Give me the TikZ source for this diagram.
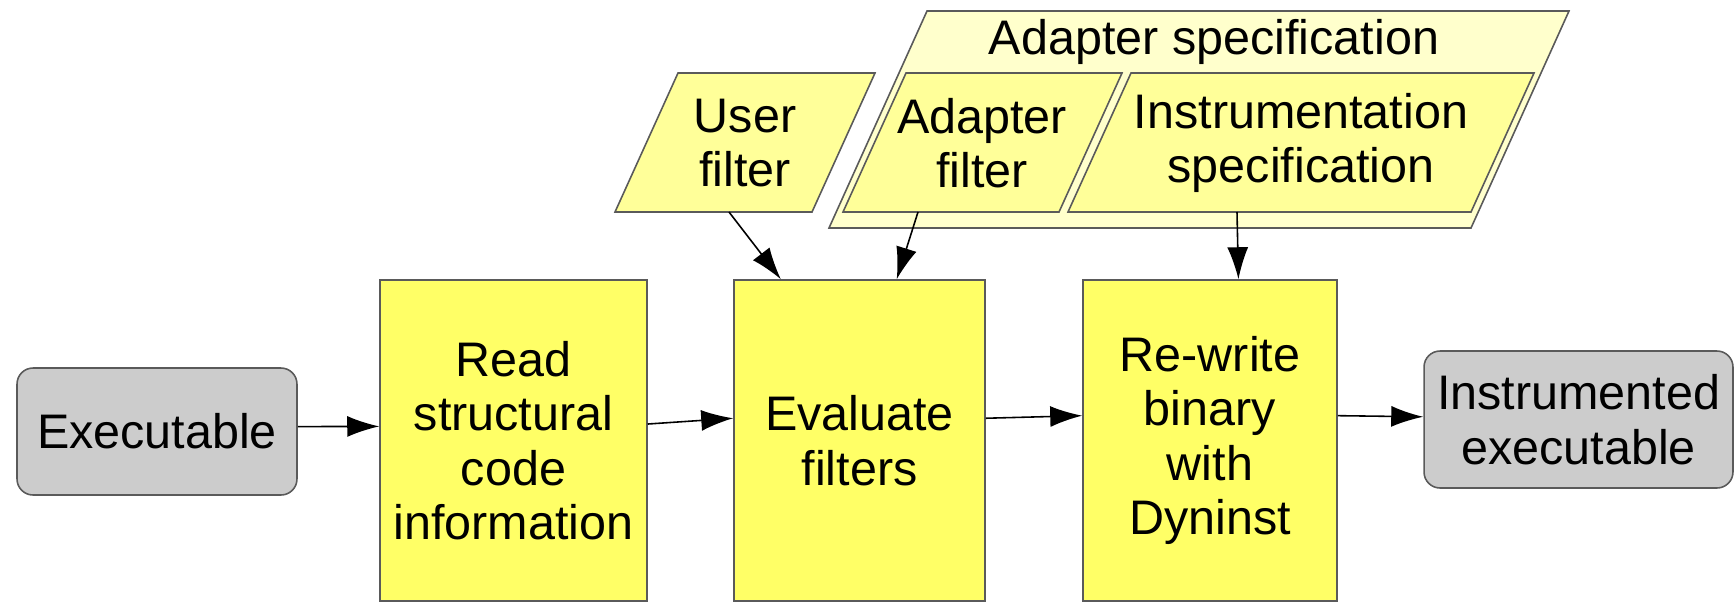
\documentclass[tikz,border=0pt]{standalone}
\usepackage{fontspec}
\setmainfont{Liberation Sans}
\usetikzlibrary{arrows.meta}
\definecolor{procyellow}{HTML}{FFFF66}
\definecolor{datayellow}{HTML}{FFFF99}
\definecolor{specyellow}{HTML}{FFFFCC}
\definecolor{filegray}{HTML}{CCCCCC}
\definecolor{edgegray}{HTML}{5A5A5A}

\tikzset{
  boxfont/.style={font=\fontsize{27.6}{31}\selectfont},
  process/.style={draw=edgegray, fill=procyellow, line width=0.9pt, align=center, boxfont, minimum height=6.42cm},
  file/.style={draw=edgegray, fill=filegray, line width=0.9pt, rounded corners=0.32cm, align=center, boxfont},
  data/.style={draw=edgegray, fill=datayellow, line width=0.9pt},
  spec/.style={draw=edgegray, fill=specyellow, line width=0.9pt},
  datalabel/.style={align=center, boxfont, inner sep=0pt},
  flow/.style={-{Latex[length=0.64cm,width=0.42cm]}, line width=0.9pt}
}

\begin{document}
\begin{tikzpicture}[x=0.02cm, y=-0.02cm]
  \useasboundingbox (0,0) rectangle (1735,603);

  % inputs on top
  \path[spec] (829,228) -- (1471,228) -- (1569,11) -- (927,11) -- cycle;
  \node[datalabel] (as) at (1214,42) {Adapter specification};
  \path[data] (615,212) -- (812,212) -- (875,73) -- (678,73) -- cycle;
  \path[data] (843,212) -- (1059,212) -- (1122,73) -- (906,73) -- cycle;
  \path[data] (1068,212) -- (1471,212) -- (1534,73) -- (1131,73) -- cycle;
  \node[datalabel] (uf) at (745,143) {User\\filter};
  \node[datalabel] (af) at (982,143) {Adapter\\filter};
  \node[datalabel] (is) at (1301,143) {Instrumentation\\specification};
  \coordinate (uf-out) at (729,212);
  \coordinate (af-out) at (918,212);
  \coordinate (is-out) at (1237,212);

  % main chain
  \node[file, minimum width=5.6cm, minimum height=2.54cm] (exe) at (157,431.5) {Executable};
  \node[process, minimum width=5.34cm] (read) at (513.5,440.5) {Read\\structural\\code\\information};
  \node[process, minimum width=5.02cm] (eval) at (859.5,440.5) {Evaluate\\filters};
  \node[process, minimum width=5.08cm] (rewrite) at (1210,440.5) {Re-write\\binary\\with\\Dyninst};
  \node[file, minimum width=6.18cm, minimum height=2.74cm] (instr) at (1578.5,419.5) {Instrumented\\executable};

  \path[flow]
  (exe.2) edge (read.174)
  (read.7) edge (eval.170)
  (eval.10) edge (rewrite.169)
  (rewrite.11) edge (instr.179)
  (uf-out) edge (eval.116)
  (af-out) edge (eval.77)
  (is-out) edge (rewrite.80)
  ;
\end{tikzpicture}
\end{document}
